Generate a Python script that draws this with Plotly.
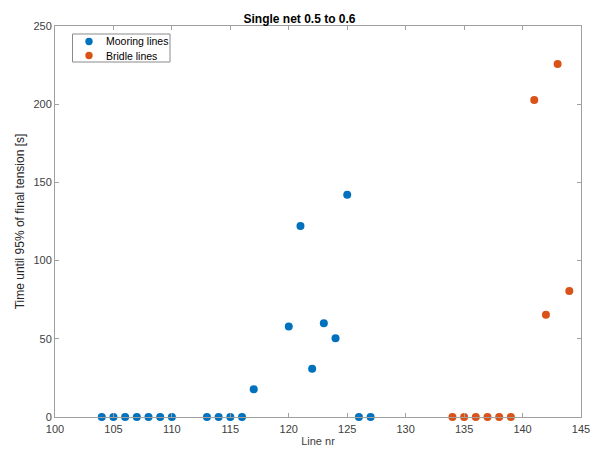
import plotly.graph_objects as go

mooring_x = [104, 105, 106, 107, 108, 109, 110, 113, 114, 115, 116, 117, 120, 121, 122, 123, 124, 125, 126, 127]
mooring_y = [0, 0, 0, 0, 0, 0, 0, 0, 0, 0, 0, 17.7, 57.8, 122.1, 30.9, 59.9, 50.3, 142.1, 0, 0]
bridle_x = [134, 135, 136, 137, 138, 139, 141, 142, 143, 144]
bridle_y = [0, 0, 0, 0, 0, 0, 202.7, 65.4, 225.7, 80.6]
x_ticks = [100, 105, 110, 115, 120, 125, 130, 135, 140, 145]
y_ticks = [0, 50, 100, 150, 200, 250]
series_names = ["Mooring lines", "Bridle lines"]
series_colors = ["#0072BD", "#D95319"]

fig = go.Figure()
fig.add_trace(go.Scatter(x=mooring_x, y=mooring_y, mode="markers", name=series_names[0],
                         marker=dict(color=series_colors[0], size=8), cliponaxis=False,
                         showlegend=False))
fig.add_trace(go.Scatter(x=bridle_x, y=bridle_y, mode="markers", name=series_names[1],
                         marker=dict(color=series_colors[1], size=8), cliponaxis=False,
                         showlegend=False))

# Custom compact legend (MATLAB style)
W, H, L, T = 599, 453, 55, 26
pw, ph = W - L - 18, H - T - 36
def px(x):
    return (x - L) / pw
def py(y):
    return (H - 36 - y) / ph

shapes = [dict(type="rect", xref="paper", yref="paper",
               x0=px(72.5), x1=px(170), y0=py(62), y1=py(34),
               line=dict(color="#8a8a8a", width=1), fillcolor="white", layer="above")]
annotations = []
for i, (nm, col) in enumerate(zip(series_names, series_colors)):
    yc = 41.5 + i * 14
    shapes.append(dict(type="circle", xref="paper", yref="paper",
                       xsizemode="pixel", ysizemode="pixel",
                       xanchor=px(89), yanchor=py(yc), x0=-3.7, x1=3.7, y0=-3.7, y1=3.7,
                       fillcolor=col, line=dict(width=0), layer="above"))
    annotations.append(dict(xref="paper", yref="paper", x=px(103.5), y=py(yc),
                            xanchor="left", yanchor="middle", text=nm, showarrow=False,
                            font=dict(size=10.5, color="#000000")))

axcol = "#a0a0a0"
fig.update_layout(
    width=W, height=H,
    margin=dict(l=L, r=18, t=T, b=36, autoexpand=False),
    paper_bgcolor="white", plot_bgcolor="white",
    font=dict(family="Liberation Sans, Arial, sans-serif", size=11, color="#404040"),
    title=dict(text="<b>Single net 0.5 to 0.6</b>", x=0.5, xanchor="center",
               y=1, yref="paper", yanchor="bottom", pad=dict(b=3),
               font=dict(size=12, color="#000000")),
    showlegend=False,
    shapes=shapes,
    annotations=annotations,
    xaxis=dict(range=[100, 145], tickvals=x_ticks, showgrid=False, zeroline=False,
               showline=True, linecolor=axcol, linewidth=1, mirror="ticks",
               ticks="inside", ticklen=4, tickcolor=axcol, automargin=False,
               ticklabelstandoff=2,
               title=dict(text="Line nr", standoff=3, font=dict(size=11, color="#404040"))),
    yaxis=dict(range=[0, 250], tickvals=y_ticks, showgrid=False, zeroline=False,
               showline=True, linecolor=axcol, linewidth=1, mirror="ticks",
               ticks="inside", ticklen=4, tickcolor=axcol, automargin=False,
               title=dict(text="Time until 95% of final tension [s]", standoff=6,
                          font=dict(size=12, color="#262626"))),
)
fig.write_html("out.html", config=dict(displayModeBar=False),
               post_script="document.body.style.margin='0';document.body.style.overflow='hidden';")
